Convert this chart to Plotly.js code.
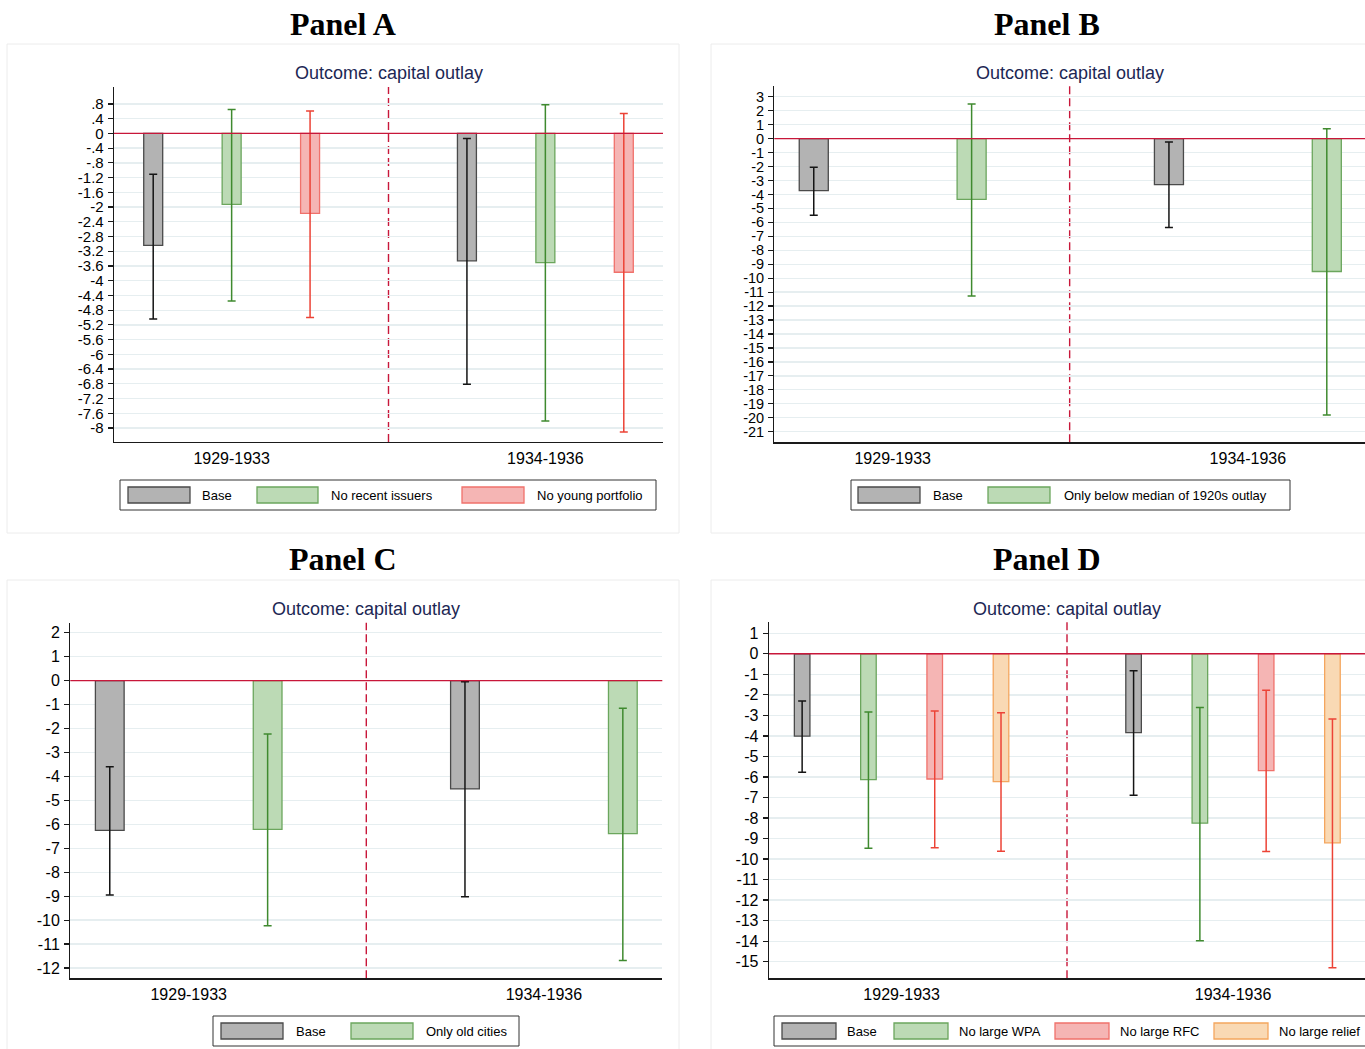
<!DOCTYPE html>
<html>
<head>
<meta charset="utf-8">
<script src="https://cdn.plot.ly/plotly-3.0.1.min.js"></script>
<style>html,body{margin:0;padding:0;background:#fff}#chart{width:1365px;height:1049px}</style>
</head>
<body>
<div id="chart"></div>
<script>
// ---------------- DATA ----------------
const categories = ['1929-1933', '1934-1936'];
const subtitle = 'Outcome: capital outlay';
const panelTitles = ['Panel A', 'Panel B', 'Panel C', 'Panel D'];

// Panel A
const A_names = ['Base', 'No recent issuers', 'No young portfolio'];
const A_base = [-3.04, -3.46];   const A_base_lo = [-5.04, -6.81];   const A_base_hi = [-1.11, -0.14];
const A_recent = [-1.93, -3.51]; const A_recent_lo = [-4.55, -7.81]; const A_recent_hi = [0.65, 0.78];
const A_young = [-2.17, -3.77];  const A_young_lo = [-5.00, -8.11];  const A_young_hi = [0.61, 0.54];
const A_tickVals = [0.8, 0.4, 0, -0.4, -0.8, -1.2, -1.6, -2, -2.4, -2.8, -3.2, -3.6, -4, -4.4, -4.8, -5.2, -5.6, -6, -6.4, -6.8, -7.2, -7.6, -8];
const A_tickText = ['.8', '.4', '0', '-.4', '-.8', '-1.2', '-1.6', '-2', '-2.4', '-2.8', '-3.2', '-3.6', '-4', '-4.4', '-4.8', '-5.2', '-5.6', '-6', '-6.4', '-6.8', '-7.2', '-7.6', '-8'];

// Panel B
const B_names = ['Base', 'Only below median of 1920s outlay'];
const B_base = [-3.73, -3.29];  const B_base_lo = [-5.49, -6.37];   const B_base_hi = [-2.05, -0.24];
const B_below = [-4.35, -9.52]; const B_below_lo = [-11.27, -19.8]; const B_below_hi = [2.48, 0.71];
const B_tickVals = [3, 2, 1, 0, -1, -2, -3, -4, -5, -6, -7, -8, -9, -10, -11, -12, -13, -14, -15, -16, -17, -18, -19, -20, -21];

// Panel C
const C_names = ['Base', 'Only old cities'];
const C_base = [-6.25, -4.52]; const C_base_lo = [-8.95, -9.02];  const C_base_hi = [-3.60, -0.05];
const C_old = [-6.21, -6.39];  const C_old_lo = [-10.24, -11.69]; const C_old_hi = [-2.23, -1.15];
const C_tickVals = [2, 1, 0, -1, -2, -3, -4, -5, -6, -7, -8, -9, -10, -11, -12];

// Panel D
const D_names = ['Base', 'No large WPA', 'No large RFC', 'No large relief'];
const D_base = [-4.01, -3.84];   const D_base_lo = [-5.77, -6.89];    const D_base_hi = [-2.30, -0.83];
const D_wpa = [-6.13, -8.25];    const D_wpa_lo = [-9.47, -13.98];    const D_wpa_hi = [-2.84, -2.61];
const D_rfc = [-6.10, -5.69];    const D_rfc_lo = [-9.45, -9.63];     const D_rfc_hi = [-2.79, -1.78];
const D_relief = [-6.23, -9.21]; const D_relief_lo = [-9.62, -15.29]; const D_relief_hi = [-2.87, -3.18];
const D_tickVals = [1, 0, -1, -2, -3, -4, -5, -6, -7, -8, -9, -10, -11, -12, -13, -14, -15];

// ---------------- STYLES ----------------
const GRAY = {fill: '#b3b3b3', line: '#4a4a4a', err: '#151515'};
const GREEN = {fill: '#bcdab5', line: '#6ba65d', err: '#3f8a2f'};
const RED = {fill: '#f5b5b4', line: '#f0716b', err: '#ec4336'};
const ORANGE = {fill: '#f9d9b4', line: '#f4a65e', err: '#ec4336'};
const CRIMSON = '#c8173a';
const FONT = 'Liberation Sans, Arial, Helvetica, sans-serif';

const W = 1365, H = 1049;
const px = x => x / W;
const py = y => 1 - y / H;

const panels = [
  {xd: [114, 663], yd: [87, 442], xr: [0, 7], yr: [-8.38, 1.26], centers: [1.5, 5.5], bw: 0.242,
   tv: A_tickVals, tt: A_tickText, tickSize: 15,
   series: [
     {name: A_names[0], y: A_base, lo: A_base_lo, hi: A_base_hi, st: GRAY},
     {name: A_names[1], y: A_recent, lo: A_recent_lo, hi: A_recent_hi, st: GREEN},
     {name: A_names[2], y: A_young, lo: A_young_lo, hi: A_young_hi, st: RED}],
   title: {x: 343, y: 24}, sub: {x: 388.5, y: 73}, frame: [7, 44, 679, 533],
   legend: {box: [120, 480, 656, 510], sw: [[128, 190], [257, 318], [462, 524]], tx: [200, 329, 535]}},
  {xd: [774.3, 1365], yd: [86, 442.3], xr: [0, 3.742], yr: [-21.76, 3.77], centers: [0.75, 3.0], bw: 0.184,
   tv: B_tickVals, tt: B_tickVals.map(String), tickSize: 14.5,
   series: [
     {name: B_names[0], y: B_base, lo: B_base_lo, hi: B_base_hi, st: GRAY},
     {name: B_names[1], y: B_below, lo: B_below_lo, hi: B_below_hi, st: GREEN}],
   title: {x: 1047, y: 24}, sub: {x: 1070.3, y: 73}, frame: [711, 44, 1383, 533],
   legend: {box: [851, 480, 1290, 510], sw: [[858, 920], [988, 1050]], tx: [931, 1062]}},
  {xd: [70.3, 662.3], yd: [622.7, 978.3], xr: [0, 3.75], yr: [-12.43, 2.42], centers: [0.75, 3.0], bw: 0.182,
   tv: C_tickVals, tt: C_tickVals.map(String), tickSize: 16,
   series: [
     {name: C_names[0], y: C_base, lo: C_base_lo, hi: C_base_hi, st: GRAY},
     {name: C_names[1], y: C_old, lo: C_old_lo, hi: C_old_hi, st: GREEN}],
   title: {x: 343, y: 559}, sub: {x: 366.3, y: 609}, frame: [7, 580, 679, 1069],
   legend: {box: [213, 1016, 519, 1046], sw: [[221, 283], [351, 413]], tx: [294, 424]}},
  {xd: [769, 1365], yd: [622, 978.3], xr: [0, 8.991], yr: [-15.81, 1.55], centers: [2, 7], bw: 0.235,
   tv: D_tickVals, tt: D_tickVals.map(String), tickSize: 16,
   series: [
     {name: D_names[0], y: D_base, lo: D_base_lo, hi: D_base_hi, st: GRAY},
     {name: D_names[1], y: D_wpa, lo: D_wpa_lo, hi: D_wpa_hi, st: GREEN},
     {name: D_names[2], y: D_rfc, lo: D_rfc_lo, hi: D_rfc_hi, st: RED},
     {name: D_names[3], y: D_relief, lo: D_relief_lo, hi: D_relief_hi, st: ORANGE}],
   title: {x: 1047, y: 559}, sub: {x: 1067.3, y: 609}, frame: [711, 580, 1383, 1069],
   legend: {box: [774, 1016, 1400, 1046], sw: [[782, 836], [894, 948], [1055, 1109], [1214, 1268]], tx: [845, 957, 1118, 1277]}}
];

const traces = [];
const shapes = [];
const annotations = [];
const layout = {
  width: W, height: H,
  margin: {l: 0, r: 0, t: 0, b: 0},
  paper_bgcolor: '#ffffff', plot_bgcolor: '#ffffff',
  barmode: 'overlay', showlegend: false,
  font: {family: FONT, color: '#000'},
  shapes: shapes, annotations: annotations
};

panels.forEach((p, k) => {
  const sfx = k === 0 ? '' : String(k + 1);
  const xa = 'x' + sfx, ya = 'y' + sfx;
  const n = p.series.length;

  p.series.forEach((s, i) => {
    const xs = categories.map((c, g) => p.centers[g] + (i - (n - 1) / 2));
    traces.push({
      type: 'bar', x: xs, y: s.y, width: p.bw, name: s.name,
      xaxis: xa, yaxis: ya,
      marker: {color: s.st.fill, line: {color: s.st.line, width: 1.3}},
      error_y: {type: 'data', symmetric: false,
        array: s.y.map((v, j) => s.hi[j] - v),
        arrayminus: s.y.map((v, j) => v - s.lo[j]),
        color: s.st.err, thickness: 1.5, width: 4},
      hoverinfo: 'skip'
    });
  });

  layout['xaxis' + sfx] = {
    domain: [px(p.xd[0]), Math.min(1, px(p.xd[1]))], range: p.xr, anchor: ya,
    showgrid: false, zeroline: false, showline: true, linecolor: '#1a1a1a', linewidth: 1.3,
    ticks: '', tickvals: p.centers, ticktext: categories, ticklabelstandoff: 1,
    tickfont: {family: FONT, size: 16, color: '#000'}, fixedrange: true
  };
  layout['yaxis' + sfx] = {
    domain: [py(p.yd[1]), py(p.yd[0])], range: p.yr, anchor: xa,
    showgrid: true, gridcolor: '#e6eef0', gridwidth: 1.3, zeroline: false,
    showline: true, linecolor: '#1a1a1a', linewidth: 1.3,
    ticks: 'outside', ticklen: 5, tickwidth: 1.2, tickcolor: '#1a1a1a',
    tickvals: p.tv, ticktext: p.tt, ticklabelstandoff: 1,
    tickfont: {family: FONT, size: p.tickSize, color: '#000'}, fixedrange: true
  };

  const mid = (p.xr[1] * (p.xd[1] - p.xd[0]) / (Math.min(W, p.xd[1]) - p.xd[0])) / 2;
  // zero line and period divider
  shapes.push({type: 'line', xref: xa + ' domain', yref: ya, x0: 0, x1: 1, y0: 0, y1: 0,
    line: {color: CRIMSON, width: 1.4}, layer: 'above'});
  shapes.push({type: 'line', xref: xa, yref: ya + ' domain', x0: mid, x1: mid, y0: 0, y1: 1,
    line: {color: CRIMSON, width: 1.4, dash: '8px,4px'}, layer: 'below'});

  // panel frame
  shapes.push({type: 'rect', xref: 'paper', yref: 'paper',
    x0: px(p.frame[0]), x1: px(p.frame[2]), y0: py(p.frame[3]), y1: py(p.frame[1]),
    line: {color: '#ececec', width: 1}, fillcolor: 'rgba(0,0,0,0)', layer: 'below'});

  // titles
  annotations.push({xref: 'paper', yref: 'paper', x: px(p.title.x), y: py(p.title.y),
    xanchor: 'center', yanchor: 'middle', showarrow: false, text: '<b>' + panelTitles[k] + '</b>',
    font: {family: 'Liberation Serif, Times New Roman, serif', size: 32, color: '#000'}});
  annotations.push({xref: 'paper', yref: 'paper', x: px(p.sub.x), y: py(p.sub.y),
    xanchor: 'center', yanchor: 'middle', showarrow: false, text: subtitle,
    font: {family: FONT, size: 18, color: '#1c2754'}});

  // legend
  const L = p.legend;
  shapes.push({type: 'rect', xref: 'paper', yref: 'paper',
    x0: px(L.box[0]), x1: px(L.box[2]), y0: py(L.box[3]), y1: py(L.box[1]),
    line: {color: '#333', width: 1}, fillcolor: '#fff'});
  const cy = (L.box[1] + L.box[3]) / 2;
  p.series.forEach((s, i) => {
    shapes.push({type: 'rect', xref: 'paper', yref: 'paper',
      x0: px(L.sw[i][0]), x1: px(L.sw[i][1]), y0: py(cy + 8), y1: py(cy - 8),
      line: {color: s.st.line, width: 1.3}, fillcolor: s.st.fill});
    annotations.push({xref: 'paper', yref: 'paper', x: px(L.tx[i]), y: py(cy),
      xanchor: 'left', yanchor: 'middle', showarrow: false, text: s.name,
      font: {family: FONT, size: 13, color: '#000'}});
  });
});

Plotly.newPlot('chart', traces, layout, {staticPlot: true, displayModeBar: false});
</script>
</body>
</html>
